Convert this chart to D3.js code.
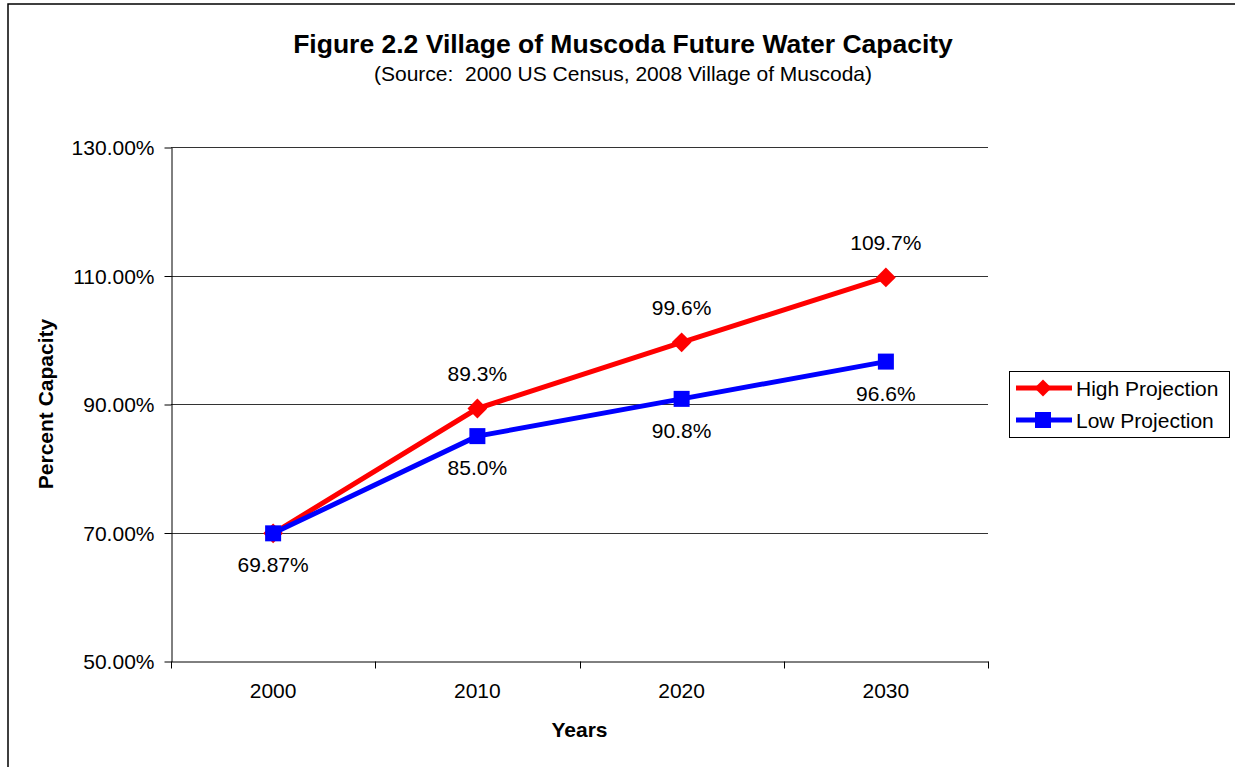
<!DOCTYPE html>
<html>
<head>
<meta charset="utf-8">
<script src="https://cdn.jsdelivr.net/npm/d3@7"></script>
<style>
  body { margin: 0; background: #fff; }
  text { font-family: "Liberation Sans", Arial, sans-serif; fill: #000; }
</style>
</head>
<body>
<script>
// data
var years = ["2000", "2010", "2020", "2030"];
var highValues = [69.87, 89.3, 99.6, 109.7];
var lowValues = [69.87, 85.0, 90.8, 96.6];
var highLabels = [null, "89.3%", "99.6%", "109.7%"];
var lowLabels = ["69.87%", "85.0%", "90.8%", "96.6%"];
var yTicks = [50, 70, 90, 110, 130];

var width = 1235, height = 767;
var plot = {left: 171, right: 988, top: 147, bottom: 661};

var svg = d3.select("body").append("svg")
  .attr("width", width)
  .attr("height", height);

// outer frame
svg.append("rect")
  .attr("x", 8).attr("y", 4)
  .attr("width", width).attr("height", height)
  .attr("fill", "none").attr("stroke", "#000").attr("stroke-width", 1.5);

// scales
var x = d3.scaleBand().domain(years).range([plot.left, plot.right]).padding(0);
var y = d3.scaleLinear().domain([50, 130]).range([plot.bottom, plot.top]);
function cx(d) { return x(d) + x.bandwidth() / 2; }

// gridlines
svg.append("g")
  .selectAll("line")
  .data(yTicks.slice(1))
  .enter().append("line")
  .attr("x1", plot.left).attr("x2", plot.right)
  .attr("y1", function(d){ return Math.round(y(d)) + 0.5; })
  .attr("y2", function(d){ return Math.round(y(d)) + 0.5; })
  .attr("stroke", "#333").attr("stroke-width", 1);

// y axis
var yAxis = d3.axisLeft(y)
  .tickValues(yTicks)
  .tickSize(7)
  .tickSizeOuter(0)
  .tickPadding(10)
  .tickFormat(function(d){ return d.toFixed(2) + "%"; });
var gy = svg.append("g")
  .attr("transform", "translate(" + (plot.left + 0.5) + ",0.5)")
  .call(yAxis);
gy.selectAll("text").style("font-size", "21px").attr("dy", "0.35em");
gy.selectAll("line, path").attr("stroke", "#000");

// x axis (labels centred in categories, ticks on category edges)
var xAxis = d3.axisBottom(x).tickSize(0).tickSizeOuter(0).tickPadding(22);
var gx = svg.append("g")
  .attr("transform", "translate(0," + (plot.bottom + 0.5) + ")")
  .call(xAxis);
gx.selectAll("text").style("font-size", "21px");
gx.select("path").attr("stroke", "#000");
gx.selectAll(".edge")
  .data(years.concat(["end"]))
  .enter().append("line")
  .attr("class", "edge")
  .attr("x1", function(d){ return Math.round(d === "end" ? plot.right : x(d)) + 0.5; })
  .attr("x2", function(d){ return Math.round(d === "end" ? plot.right : x(d)) + 0.5; })
  .attr("y1", 0).attr("y2", 7)
  .attr("stroke", "#000");

// axis titles
svg.append("text")
  .attr("x", (plot.left + plot.right) / 2).attr("y", 737)
  .attr("text-anchor", "middle")
  .style("font-size", "21px").style("font-weight", "bold")
  .text("Years");
svg.append("text")
  .attr("transform", "translate(53," + 404 + ") rotate(-90)")
  .attr("text-anchor", "middle")
  .style("font-size", "21px").style("font-weight", "bold")
  .text("Percent Capacity");

// title
svg.append("text")
  .attr("x", 623).attr("y", 53)
  .attr("text-anchor", "middle")
  .style("font-size", "26.5px").style("font-weight", "bold")
  .text("Figure 2.2 Village of Muscoda Future Water Capacity");
svg.append("text")
  .attr("x", 623).attr("y", 81)
  .attr("text-anchor", "middle")
  .style("font-size", "21px")
  .style("white-space", "pre")
  .text("(Source:  2000 US Census, 2008 Village of Muscoda)");

// lines
var line = d3.line()
  .x(function(d, i){ return cx(years[i]); })
  .y(function(d){ return y(d); });

function drawSeries(values, color, marker) {
  svg.append("path")
    .datum(values)
    .attr("d", line)
    .attr("fill", "none")
    .attr("stroke", color)
    .attr("stroke-width", 5)
    .attr("stroke-linejoin", "round");
  var pts = svg.append("g").selectAll("g")
    .data(values).enter().append("g")
    .attr("transform", function(d, i){ return "translate(" + cx(years[i]) + "," + y(d) + ")"; });
  if (marker === "diamond") {
    pts.append("rect")
      .attr("x", -7).attr("y", -7).attr("width", 14).attr("height", 14)
      .attr("transform", "rotate(45)")
      .attr("fill", color);
  } else {
    pts.append("rect")
      .attr("x", -8).attr("y", -8).attr("width", 16).attr("height", 16)
      .attr("fill", color);
  }
}
drawSeries(highValues, "#ff0000", "diamond");
drawSeries(lowValues, "#0000ff", "square");

// data labels
svg.append("g").selectAll("text")
  .data(highValues).enter()
  .filter(function(d, i){ return highLabels[i] !== null; })
  .append("text")
  .attr("x", function(d){ return cx(years[highValues.indexOf(d)]); })
  .attr("y", function(d){ return y(d) - 27; })
  .attr("text-anchor", "middle")
  .style("font-size", "21px")
  .text(function(d){ return highLabels[highValues.indexOf(d)]; });
svg.append("g").selectAll("text")
  .data(lowValues).enter().append("text")
  .attr("x", function(d, i){ return cx(years[i]); })
  .attr("y", function(d){ return y(d) + 39; })
  .attr("text-anchor", "middle")
  .style("font-size", "21px")
  .text(function(d, i){ return lowLabels[i]; });

// legend
var legend = svg.append("g").attr("transform", "translate(1009,371)");
legend.append("rect")
  .attr("x", 0.5).attr("y", 0.5).attr("width", 220).attr("height", 66)
  .attr("fill", "#fff").attr("stroke", "#000").attr("stroke-width", 1);
var items = [
  {name: "High Projection", color: "#ff0000", marker: "diamond", y: 17},
  {name: "Low Projection", color: "#0000ff", marker: "square", y: 49}
];
items.forEach(function(it){
  legend.append("line")
    .attr("x1", 7).attr("x2", 63).attr("y1", it.y).attr("y2", it.y)
    .attr("stroke", it.color).attr("stroke-width", 5);
  if (it.marker === "diamond") {
    legend.append("rect")
      .attr("x", -6).attr("y", -6).attr("width", 12).attr("height", 12)
      .attr("transform", "translate(34," + it.y + ") rotate(45)")
      .attr("fill", it.color);
  } else {
    legend.append("rect")
      .attr("x", 34 - 8).attr("y", it.y - 8).attr("width", 16).attr("height", 16)
      .attr("fill", it.color);
  }
  legend.append("text")
    .attr("x", 67).attr("y", it.y + 7.5)
    .style("font-size", "21px")
    .text(it.name);
});
</script>
</body>
</html>
